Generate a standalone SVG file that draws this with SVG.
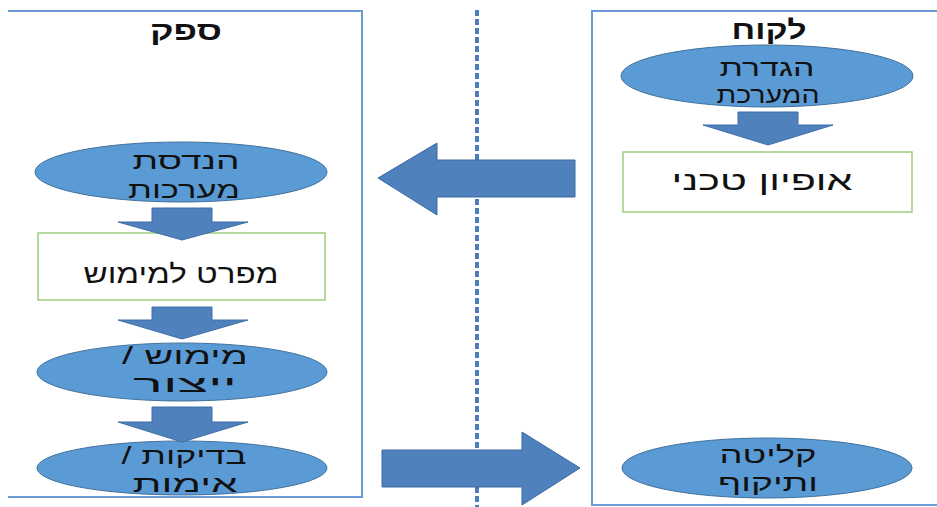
<svg xmlns="http://www.w3.org/2000/svg" width="937" height="507" viewBox="0 0 937 507">
  <style>
    .frame { fill: none; stroke: #6b9bd6; stroke-width: 2; }
    .oval { fill: #5b9bd5; stroke: #41719c; stroke-width: 1; }
    .card { fill: #ffffff; stroke: #9ccd7f; stroke-width: 1.5; }
    .flow { fill: #4f81bd; stroke: #3f6ea8; stroke-width: 1; }
    .big { fill: #4f81bd; stroke: #3c69a0; stroke-width: 1; }
    .divider { fill: none; stroke: #4a7cc0; stroke-width: 4; stroke-dasharray: 6 3; }
    text { font-family: "Liberation Sans", "DejaVu Sans", sans-serif; font-size: 23px; fill: #111; text-anchor: middle; direction: rtl; }
    .single { font-size: 26px; }
    .title { font-weight: bold; font-size: 26px; }
  </style>

  <rect width="937" height="507" fill="#ffffff"/>

  <!-- lane frames -->
  <g id="lane-supplier">
    <path class="frame" d="M8,11 H362 V497 H8"/>
    <text class="title" x="186" y="40" textLength="72" lengthAdjust="spacingAndGlyphs">ספק</text>
  </g>
  <g id="lane-customer">
    <path class="frame" d="M940,11 H592 V505 H940"/>
    <text class="title" x="769" y="39" textLength="75" lengthAdjust="spacingAndGlyphs">לקוח</text>
  </g>

  <!-- centre divider -->
  <line class="divider" x1="477" y1="10" x2="477" y2="507"/>

  <!-- supplier nodes -->
  <g id="systems-engineering">
    <ellipse class="oval" cx="181" cy="172" rx="146" ry="30"/>
    <text x="186" y="169" textLength="107" lengthAdjust="spacingAndGlyphs">הנדסת</text>
    <text x="184" y="198" textLength="112" lengthAdjust="spacingAndGlyphs">מערכות</text>
  </g>
  <g id="implementation-spec">
    <rect class="card" x="38" y="233" width="287" height="67"/>
    <text class="single" x="181" y="283" textLength="195" lengthAdjust="spacingAndGlyphs">מפרט למימוש</text>
  </g>
  <g id="production">
    <ellipse class="oval" cx="182" cy="372" rx="145" ry="29"/>
    <text x="185" y="364" textLength="126" lengthAdjust="spacingAndGlyphs">מימוש /</text>
    <text x="185" y="392" textLength="104" lengthAdjust="spacingAndGlyphs">ייצור</text>
  </g>
  <g id="testing">
    <ellipse class="oval" cx="182" cy="468" rx="145" ry="27"/>
    <text x="184" y="464" textLength="125" lengthAdjust="spacingAndGlyphs">בדיקות /</text>
    <text x="185" y="492" textLength="105" lengthAdjust="spacingAndGlyphs">אימות</text>
  </g>

  <!-- customer nodes -->
  <g id="system-definition">
    <ellipse class="oval" cx="767" cy="76" rx="146" ry="31"/>
    <text x="767" y="76" textLength="95" lengthAdjust="spacingAndGlyphs">הגדרת</text>
    <text x="768" y="103" textLength="103" lengthAdjust="spacingAndGlyphs">המערכת</text>
  </g>
  <g id="technical-characterization">
    <rect class="card" x="623" y="152" width="289" height="60"/>
    <text class="single" x="762" y="190" textLength="181" lengthAdjust="spacingAndGlyphs">אופיון טכני</text>
  </g>
  <g id="acceptance">
    <ellipse class="oval" cx="767" cy="468" rx="145" ry="30"/>
    <text x="768" y="463" textLength="97" lengthAdjust="spacingAndGlyphs">קליטה</text>
    <text x="768" y="491" textLength="100" lengthAdjust="spacingAndGlyphs">ותיקוף</text>
  </g>

  <!-- connectors -->
  <g id="connectors">
    <!-- downward flow arrows inside the lanes -->
    <path class="flow" d="M152,208 H212 V222 H248 L182,240 L118,222 H152 Z"/>
    <path class="flow" d="M152,307 H212 V320 H248 L182,339 L118,320 H152 Z"/>
    <path class="flow" d="M152,407 H212 V422 H248 L182,442 L118,422 H152 Z"/>
    <path class="flow" d="M738,112 H798 V125 H833 L768,145 L703,125 H738 Z"/>
    <!-- hand-over arrows between lanes -->
    <path class="big" d="M575,160 V197 H437 V215 L378,178 L437,143 V160 Z"/>
    <path class="big" d="M382,450 H522 V432 L580,468 L522,505 V487 H382 Z"/>
  </g>
</svg>
